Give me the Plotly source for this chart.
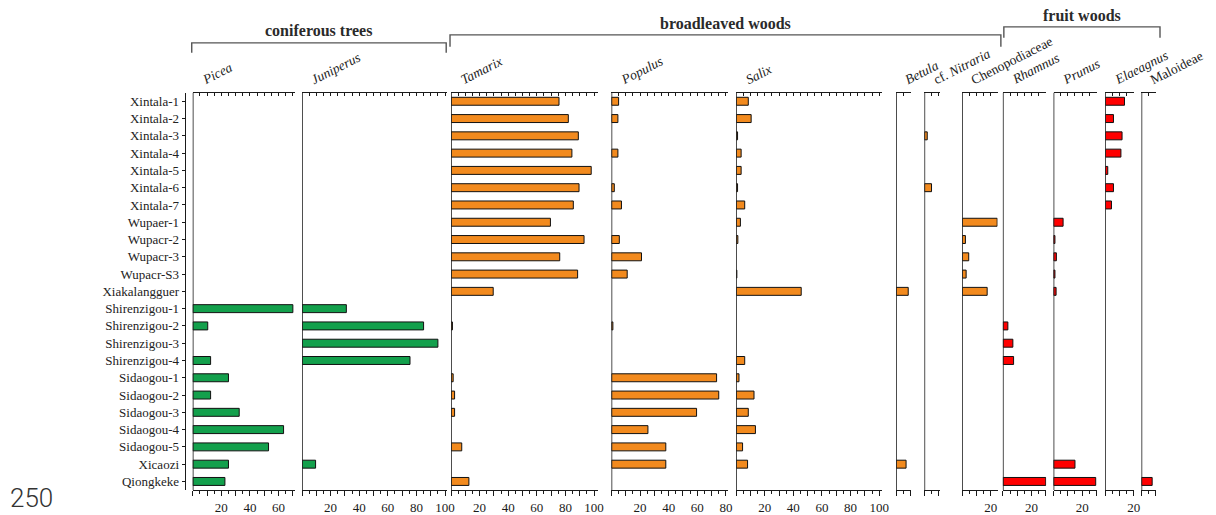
import plotly.graph_objects as go

W, H = 1216, 515

# Sampling sites, listed top to bottom
sites = [
    "Xintala-1", "Xintala-2", "Xintala-3", "Xintala-4", "Xintala-5", "Xintala-6",
    "Xintala-7", "Wupaer-1", "Wupacr-2", "Wupacr-3", "Wupacr-S3", "Xiakalangguer",
    "Shirenzigou-1", "Shirenzigou-2", "Shirenzigou-3", "Shirenzigou-4",
    "Sidaogou-1", "Sidaogou-2", "Sidaogou-3", "Sidaogou-4", "Sidaogou-5",
    "Xicaozi", "Qiongkeke",
]

N = None
# Percentages of charcoal taxa per site (None = not found)
picea = [N, N, N, N, N, N, N, N, N, N, N, N, 70, 10.5, N, 12.5, 25, 12.5, 32.5, 63.5, 53, 25, 22.5]
juniperus = [N, N, N, N, N, N, N, N, N, N, N, N, 31, 85, 95, 75.5, N, N, N, N, N, 9.5, N]
tamarix = [75.5, 82, 89, 84.5, 98, 89.5, 85.5, 69.5, 93, 76, 88.5, 29.5, N, 1, N, N, 1.5, 2.5, 2.5, N, 7.5, N, 12.5]
populus = [5, 4.5, N, 4.5, N, 2, 7, N, 5.5, 21, 11, N, N, 1, N, N, 73.5, 75, 59.5, 25.5, 38, 38, N]
salix = [8.5, 10.5, 1, 3.5, 3.5, 1, 6, 3, 1.2, N, 0.5, 45.5, N, N, N, 6, 2, 12.5, 8.5, 13.5, 4.5, 8, N]
betula = [N, N, N, N, N, N, N, N, N, N, N, 8.5, N, N, N, N, N, N, N, N, N, 7, N]
nitraria = [N, N, 2, N, N, 5, N, N, N, N, N, N, N, N, N, N, N, N, N, N, N, N, N]
chenopodiaceae = [N, N, N, N, N, N, N, 24.5, 2.3, 4.6, 2.8, 17.5, N, N, N, N, N, N, N, N, N, N, N]
rhamnus = [N, N, N, N, N, N, N, N, N, N, N, N, N, 3.5, 7, 7.5, N, N, N, N, N, N, 30]
prunus = [N, N, N, N, N, N, N, 6.7, 1, 2, 1, 1.8, N, N, N, N, N, N, N, N, N, 15, 29.5]
elaeagnus = [13.5, 5.8, 11.8, 11, 1.8, 5.8, 4.4, N, N, N, N, N, N, N, N, N, N, N, N, N, N, N, N]
maloideae = [N, N, N, N, N, N, N, N, N, N, N, N, N, N, N, N, N, N, N, N, N, N, 7.5]

taxa = ["<i>Picea</i>", "<i>Juniperus</i>", "<i>Tamarix</i>", "<i>Populus</i>", "<i>Salix</i>",
        "<i>Betula</i>", "cf. <i>Nitraria</i>", "Chenopodiaceae", "<i>Rhamnus</i>",
        "<i>Prunus</i>", "<i>Elaeagnus</i>", "Maloideae"]
series = [picea, juniperus, tamarix, populus, salix, betula, nitraria,
          chenopodiaceae, rhamnus, prunus, elaeagnus, maloideae]

groups = ["coniferous trees", "broadleaved woods", "fruit woods"]

GREEN, ORANGE, RED = "#13A04C", "#F28A1E", "#FF0000"
colors = [GREEN, GREEN, ORANGE, ORANGE, ORANGE, ORANGE, ORANGE, ORANGE, RED, RED, RED, RED]

# Panel layout: left edge (px) and axis maximum; all panels share one scale
PX_PER_UNIT = 1.44
panel_left = [194, 304, 454, 615.5, 741, 902, 930.5, 968.5, 1009.5, 1060.5, 1112.5, 1149]
panel_max = [71.5, 101.5, 103, 81.6, 102, 10.2, 10.9, 24.8, 30.3, 30.3, 20.3, 10.2]

PLOT_TOP, PLOT_BOTTOM = 93, 492
SERIF = "Liberation Serif"
INK = "#1a1a1a"


def fx(px):
    return px / W


def fy(py):
    return 1 - py / H


fig = go.Figure()
layout = {}
shapes = []
annotations = []

for i, (name, vals, col, x0, xmax) in enumerate(zip(taxa, series, colors, panel_left, panel_max)):
    n = i + 1
    ax = "x" if n == 1 else f"x{n}"
    key = "xaxis" if n == 1 else f"xaxis{n}"
    top_n = n + len(taxa)
    top_ax, top_key = f"x{top_n}", f"xaxis{top_n}"

    fig.add_trace(go.Bar(
        x=vals, y=sites, orientation="h", xaxis=ax, yaxis="y",
        width=0.46, showlegend=False, name=name,
        marker=dict(color=col, line=dict(color="#111111", width=1)),
    ))
    fig.add_trace(go.Scatter(x=[None], y=[None], xaxis=top_ax, yaxis="y",
                             showlegend=False, hoverinfo="skip"))

    major = list(range(0, int(xmax) + 1, 10))
    labels = [str(v) if (v > 0 and v % 20 == 0) else "" for v in major]
    layout[key] = dict(
        domain=[fx(x0), fx(x0 + xmax * PX_PER_UNIT)], anchor="y", side="bottom",
        range=[0, xmax], showgrid=False, zeroline=False,
        showline=True, linecolor=INK, linewidth=1.3,
        tickmode="array", tickvals=major, ticktext=labels,
        ticks="outside", ticklen=5, tickwidth=1.2, tickcolor=INK,
        minor=dict(tickmode="linear", tick0=0, dtick=5, ticks="outside",
                   ticklen=3, tickwidth=1, tickcolor=INK),
        tickfont=dict(family=SERIF, size=13, color=INK),
    )
    layout[top_key] = dict(
        overlaying=ax, side="top", anchor="y", range=[0, xmax],
        showgrid=False, zeroline=False, showticklabels=False,
        showline=True, linecolor=INK, linewidth=1.3,
        tickmode="linear", tick0=0, dtick=5,
        ticks="inside", ticklen=3, tickwidth=1, tickcolor=INK,
    )
    # baseline of the panel
    shapes.append(dict(type="line", xref=ax, x0=0, x1=0, yref="y domain", y0=0, y1=1,
                       line=dict(color="#222222", width=1.6)))
    # taxon name, slanted above the panel
    annotations.append(dict(
        text=name, xref="paper", yref="paper", x=fx(x0 + 4), y=fy(PLOT_TOP - 3),
        xanchor="left", yanchor="bottom", textangle=-27, showarrow=False,
        font=dict(family=SERIF, size=13.5, color="#222222"),
    ))

layout["yaxis"] = dict(
    domain=[fy(PLOT_BOTTOM), fy(PLOT_TOP)], anchor="free", position=fx(186),
    type="category", categoryorder="array", categoryarray=sites,
    range=[len(sites) - 0.5, -0.5], showgrid=False, zeroline=False,
    showline=True, linecolor=INK, linewidth=1.3,
    ticks="outside", ticklen=3, tickwidth=1.2, tickcolor=INK,
    tickfont=dict(family=SERIF, size=13, color="#222222"),
)

# group brackets with headings
bracket_spans = [
    (panel_left[0] - 1, panel_left[1] + panel_max[1] * PX_PER_UNIT - 1, 43, 53, 31),
    (panel_left[2] - 1, panel_left[8] - 2, 35, 47, 23.5),
    (panel_left[8] + 1, panel_left[11] + panel_max[11] * PX_PER_UNIT + 4, 27, 38, 16),
]
for label, (a, b, ytop, yend, ytext) in zip(groups, bracket_spans):
    shapes.append(dict(
        type="path", xref="paper", yref="paper",
        path=(f"M {fx(a)},{fy(yend)} L {fx(a)},{fy(ytop)} "
              f"L {fx(b)},{fy(ytop)} L {fx(b)},{fy(yend)}"),
        line=dict(color="#555555", width=1.4),
    ))
    annotations.append(dict(
        text=f"<b>{label}</b>", xref="paper", yref="paper",
        x=fx((a + b) / 2), y=fy(ytext), xanchor="center", yanchor="middle",
        showarrow=False, font=dict(family=SERIF, size=16, color="#2a2a2a"),
    ))

annotations.append(dict(
    text="250", xref="paper", yref="paper", x=fx(8), y=fy(500),
    xanchor="left", yanchor="middle", showarrow=False,
    font=dict(family="Roboto", size=26, color="#333333", weight=300),
))

fig.update_layout(
    width=W, height=H, autosize=False,
    margin=dict(l=0, r=0, t=0, b=0),
    paper_bgcolor="white", plot_bgcolor="white",
    barmode="overlay", shapes=shapes, annotations=annotations,
    **layout,
)

# keep the page exactly the size of the figure
fig.write_html(
    "out.html",
    post_script=(
        "document.body.style.margin='0';"
        "document.body.style.overflow='hidden';"
        "document.documentElement.style.overflow='hidden';"
    ),
)
